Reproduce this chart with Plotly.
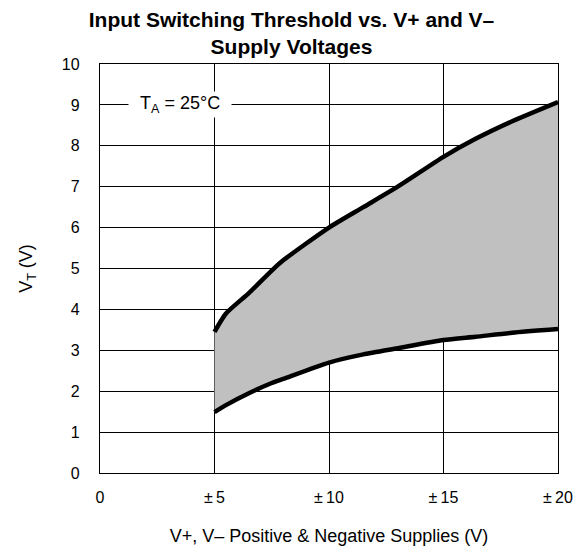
import plotly.graph_objects as go

supply_v = [5, 5.5, 6.5, 7.5, 8, 10, 11.5, 13, 15, 16.4, 18, 20]
vt_upper = [3.45, 3.9, 4.4, 4.95, 5.2, 6.0, 6.5, 7.0, 7.73, 8.17, 8.6, 9.07]
vt_lower = [1.49, 1.66, 1.95, 2.2, 2.3, 2.7, 2.9, 3.05, 3.25, 3.33, 3.43, 3.52]

x_tickvals = [0, 5, 10, 15, 20]
x_ticktext = ["0", "±\u20095", "±\u200910", "±\u200915", "±\u200920"]
y_tickvals = list(range(0, 11))

FONT = "Liberation Sans, Arial, Helvetica, sans-serif"

fig = go.Figure()
fig.add_trace(go.Scatter(x=supply_v, y=vt_lower, mode="lines",
                         line=dict(color="black", width=4.5, shape="spline", smoothing=0.6),
                         showlegend=False, hoverinfo="skip"))
fig.add_trace(go.Scatter(x=supply_v, y=vt_upper, mode="lines",
                         line=dict(color="black", width=4.5, shape="spline", smoothing=0.6),
                         fill="tonexty", fillcolor="#c0c0c0",
                         showlegend=False, hoverinfo="skip"))

fig.add_annotation(x=3.5, y=9, xref="x", yref="y",
                   text="\u00a0\u00a0T<sub>A</sub> = 25°C\u00a0\u00a0", showarrow=False,
                   font=dict(family=FONT, size=18, color="black"),
                   bgcolor="white", borderpad=1)

fig.update_layout(
    width=587, height=549,
    margin=dict(l=92, r=37, t=56, b=84),
    paper_bgcolor="white", plot_bgcolor="white",
    font=dict(family=FONT, size=16, color="black"),
    title=dict(text="<b>Input Switching Threshold vs. V+ and V–</b><br><b>Supply Voltages</b>",
               x=0.483, xanchor="center", y=0.966, yanchor="top",
               font=dict(family=FONT, size=21, color="black")),
)
fig.update_xaxes(range=[0, 20], tickvals=x_tickvals, ticktext=x_ticktext,
                 showgrid=True, gridcolor="black", gridwidth=1,
                 showline=True, linecolor="black", linewidth=1.3, mirror=True,
                 ticks="", ticklabelstandoff=10, zeroline=False, automargin=False,
                 tickfont=dict(family=FONT, size=16),
                 title=dict(text="V+, V– Positive &amp; Negative Supplies (V)", standoff=24,
                            font=dict(family=FONT, size=18)))
fig.update_yaxes(range=[0, 10], tickvals=y_tickvals,
                 showgrid=True, gridcolor="black", gridwidth=1,
                 showline=True, linecolor="black", linewidth=1.3, mirror=True,
                 ticks="", ticklabelstandoff=16, zeroline=False, automargin=False,
                 tickfont=dict(family=FONT, size=16),
                 title=dict(text="V<sub>T</sub> (V)", standoff=24,
                            font=dict(family=FONT, size=18)))

fig.write_html("out.html")
